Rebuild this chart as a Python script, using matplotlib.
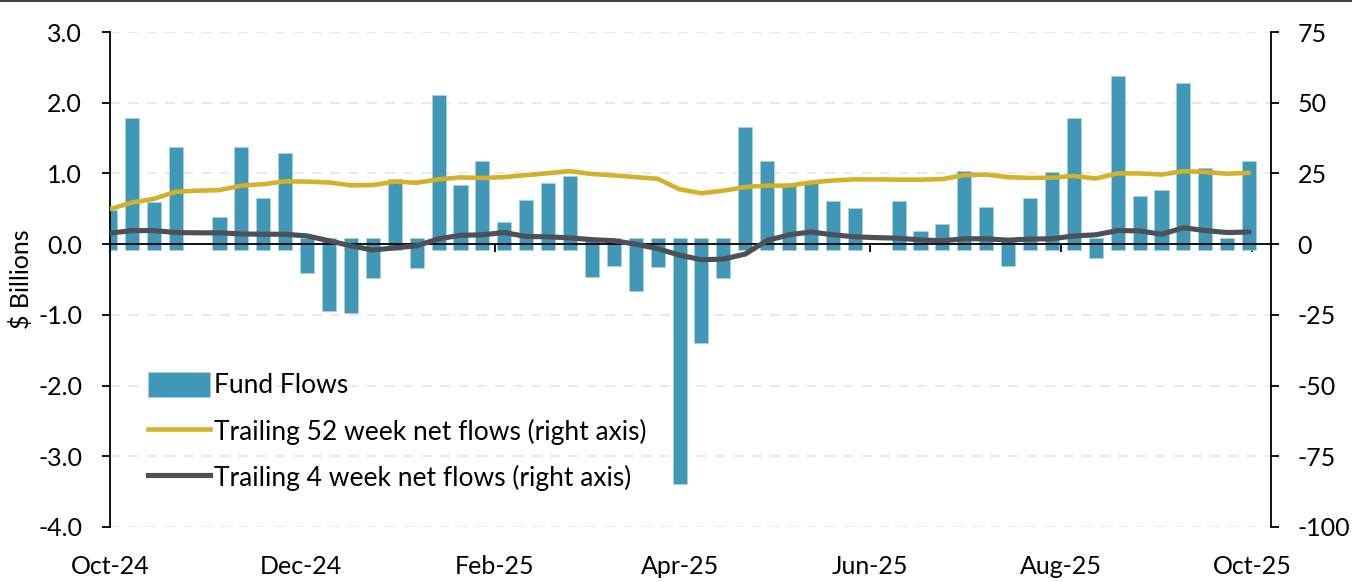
import numpy as np
import pandas as pd
import matplotlib
matplotlib.use("Agg")
import matplotlib.pyplot as plt
import matplotlib.dates as mdates
from matplotlib.patches import Patch
from matplotlib.lines import Line2D

plt.rcParams['font.family'] = ['Lato', 'DejaVu Sans']
plt.rcParams['axes.unicode_minus'] = False

# weekly data, Oct-24 .. Oct-25
dates = pd.date_range('2024-10-01', periods=53, freq='7D')

# $ billions, weekly fund flows (nan = no bar)
fund_flows = [0.48, 1.78, 0.60, 1.38, np.nan, 0.39, 1.38, 0.65, 1.29, -0.41,
              -0.94, -0.97, -0.48, 0.92, -0.34, 2.11, 0.83, 1.18, 0.32, 0.63,
              0.87, 0.96, -0.46, -0.31, -0.66, -0.32, -3.39, -1.40, -0.48, 1.65,
              1.18, 0.82, 0.87, 0.61, 0.51, np.nan, 0.61, 0.19, 0.29, 1.04,
              0.52, -0.31, 0.65, 1.02, 1.78, -0.20, 2.38, 0.68, 0.76, 2.28,
              1.08, 0.08, 1.18]

# right axis, $ billions
trailing_52 = [12.4, 14.7, 16.0, 18.5, 18.9, 19.1, 20.7, 21.2, 22.2, 22.1,
               21.8, 20.8, 20.9, 22.1, 21.7, 22.9, 23.6, 23.4, 23.7, 24.4,
               25.1, 25.8, 24.8, 24.3, 23.7, 23.1, 19.4, 18.0, 18.9, 20.2,
               20.7, 20.7, 21.8, 22.5, 22.9, 22.9, 22.8, 22.8, 23.0, 24.4,
               24.6, 23.7, 23.4, 23.5, 24.1, 23.2, 25.0, 25.0, 24.6, 25.8,
               25.5, 24.9, 25.2]

trailing_4 = [3.9, 4.8, 4.8, 4.1, 4.0, 4.0, 3.6, 3.5, 3.5, 2.9,
              1.2, -0.6, -2.1, -1.3, -0.6, 1.9, 3.1, 3.3, 4.1, 2.7,
              2.6, 2.2, 1.6, 1.2, 0.0, -1.6, -3.9, -5.5, -5.3, -3.5,
              1.3, 3.3, 4.3, 3.3, 2.6, 2.3, 2.1, 1.5, 1.2, 1.9,
              1.9, 1.4, 1.8, 1.9, 2.9, 3.3, 4.8, 4.7, 3.5, 5.8,
              4.8, 4.1, 4.3]

tick_dates = pd.date_range('2024-10-01', '2025-10-01', freq='2MS')
tick_labels = [d.strftime('%b-%y') for d in tick_dates]

bar_col = '#4197b6'
gold = '#d4b12a'
dark = '#4d5057'

fig = plt.figure(figsize=(13.52, 5.82), dpi=100)
ax = fig.add_axes([110 / 1352, 55 / 582, 1161 / 1352, 495 / 582])

v = np.array(fund_flows)
off = 0.085
bottoms = np.where(v >= 0, -off, off)
ax.bar(dates, v - bottoms, bottom=bottoms, width=4.5, color=bar_col,
       edgecolor='#a8d3e2', linewidth=0.6, zorder=2)

ax.set_ylim(-4, 3)
ax.set_yticks(np.arange(-4, 3.1, 1))
ax.yaxis.set_major_formatter(matplotlib.ticker.FormatStrFormatter('%.1f'))
ax.set_xlim(pd.Timestamp('2024-10-01'), pd.Timestamp('2025-10-07'))
ax.grid(axis='y', color='#e6e6e6', linestyle=(0, (6, 5)), linewidth=1.2, zorder=0)
ax.set_ylabel('$ Billions', fontsize=18, labelpad=4)

for s in ['top', 'right']:
    ax.spines[s].set_visible(False)
ax.spines['left'].set_linewidth(1.3)
ax.tick_params(axis='y', direction='out', length=6, width=1.3, labelsize=18, pad=14)

# x axis line sits on zero, ticks point down, no labels there
ax.spines['bottom'].set_position(('data', 0))
ax.spines['bottom'].set_linewidth(1.3)
ax.spines['bottom'].set_zorder(4)
ax.set_xticks(tick_dates)
ax.tick_params(axis='x', direction='out', length=6, width=1.3, labelbottom=False)

# month labels along the bottom of the plot
lab_ax = ax.secondary_xaxis('bottom')
lab_ax.spines['bottom'].set_visible(False)
lab_ax.set_xticks(mdates.date2num(tick_dates), tick_labels)
lab_ax.tick_params(axis='x', length=0, labelsize=18, pad=20)

ax2 = ax.twinx()
ax2.plot(dates, trailing_52, color=gold, lw=3.3, solid_capstyle='round',
         solid_joinstyle='round', zorder=3)
ax2.plot(dates, trailing_4, color=dark, lw=3.7, solid_capstyle='round',
         solid_joinstyle='round', zorder=3)
ax2.set_ylim(-100, 75)
ax2.set_yticks(np.arange(-100, 76, 25))
for s in ['top', 'left', 'bottom']:
    ax2.spines[s].set_visible(False)
ax2.spines['right'].set_linewidth(1.3)
ax2.tick_params(axis='y', direction='out', length=6, width=1.3, labelsize=18, pad=13)

handles = [Patch(facecolor=bar_col, edgecolor='#a8d3e2', linewidth=0.6),
           Line2D([], [], color=gold, lw=3.3),
           Line2D([], [], color=dark, lw=3.7)]
labels = ['Fund Flows', 'Trailing 52 week net flows (right axis)',
          'Trailing 4 week net flows (right axis)']
ax2.legend(handles, labels, loc='upper left', bbox_to_anchor=(0.033, 0.313),
           frameon=False, fontsize=19, borderpad=0, borderaxespad=0,
           handlelength=2.35, handleheight=1.06, handletextpad=0.15,
           labelspacing=0.75)

# thin border line along the top of the figure
fig.add_artist(Line2D([0, 1], [0.998, 0.998], transform=fig.transFigure,
                      color='#444444', lw=1.5))

fig.savefig('out.png', dpi=100)
